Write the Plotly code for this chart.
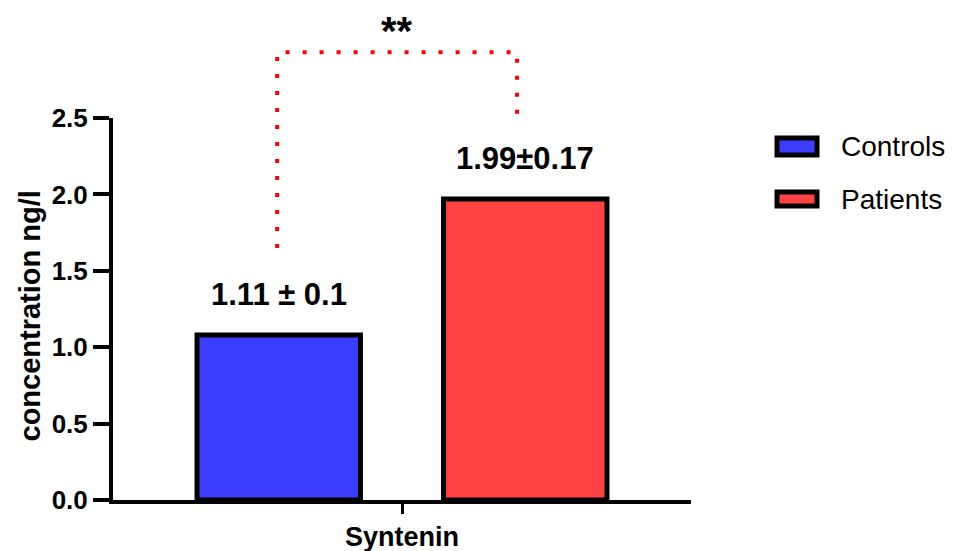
import plotly.graph_objects as go

# ---- data ----
categories = ["Syntenin"]
groups = ["Controls", "Patients"]
means = [1.08, 1.97]
bar_labels = ["1.11 ± 0.1", "1.99±0.17"]
colors = ["#3d3dff", "#ff4242"]
y_tick_vals = [0.0, 0.5, 1.0, 1.5, 2.0, 2.5]
y_tick_text = ["0.0", "0.5", "1.0", "1.5", "2.0", "2.5"]
y_title = "concentration ng/l"
# significance bracket (data units): left foot, top, right foot
bracket_x = [-0.216, 0.199]
bracket_y = [1.65, 2.93, 2.52]
significance = "**"

FONT = "Liberation Sans, Arial, sans-serif"
PAGE_OFFSET = 8  # default body margin of the html page
W, H = 957 - PAGE_OFFSET, 551 - PAGE_OFFSET
ML, MR, MT, MB = 113 - PAGE_OFFSET, 266, 118 - PAGE_OFFSET, 51
Y_RANGE = [0, 2.5]
X_RANGE = [-0.5, 0.5]
BARGAP = 0.147
BARGROUPGAP = 0.337

fig = go.Figure()
for name, val, col in zip(groups, means, colors):
    fig.add_trace(go.Bar(
        x=categories, y=[val], name=name,
        marker=dict(color=col, line=dict(color="black", width=5)),
        showlegend=False,
    ))

# bar centres (category index units) from the group layout
slot = (1 - BARGAP) / len(groups)
centres = [-(1 - BARGAP) / 2 + slot * (i + 0.5) for i in range(len(groups))]

annotations = []
for c, v, lab in zip(centres, means, bar_labels):
    annotations.append(dict(
        x=c, y=v, xref="x", yref="y", text=lab, showarrow=False,
        yanchor="middle", xanchor="center", yshift=40,
        font=dict(family=FONT, size=31, color="black", weight="bold"),
    ))

def px(xd):
    return (xd - X_RANGE[0]) / (X_RANGE[1] - X_RANGE[0])

def py(yd):
    return (yd - Y_RANGE[0]) / (Y_RANGE[1] - Y_RANGE[0])

x0, x1 = px(bracket_x[0]), px(bracket_x[1])
yl, yt, yr = py(bracket_y[0]), py(bracket_y[1]), py(bracket_y[2])
shapes = [dict(
    type="path", xref="paper", yref="paper",
    path=f"M {x0},{yl} L {x0},{yt} L {x1},{yt} L {x1},{yr}",
    line=dict(color="#ff0000", width=4, dash="4px,13px"),
)]
annotations.append(dict(
    x=(x0 + x1) / 2, y=yt + 0.0557, xref="paper", yref="paper",
    text=significance, showarrow=False, xanchor="center", yanchor="middle",
    font=dict(family=FONT, size=40, color="black", weight="bold"),
))

# y-axis title
annotations.append(dict(
    x=-0.1436, y=0.483, xref="paper", yref="paper", text=y_title,
    textangle=-90, showarrow=False, xanchor="center", yanchor="middle",
    font=dict(family=FONT, size=29, color="black", weight="bold"),
))

# custom legend (swatches + names)
leg_rows = [(0.9476, 0.9031), (0.8063, 0.7696)]
for (ya, yb), name, col in zip(leg_rows, groups, colors):
    shapes.append(dict(
        type="rect", xref="paper", yref="paper",
        x0=1.1488, x1=1.218, y0=yb, y1=ya,
        fillcolor=col, line=dict(color="black", width=5),
    ))
    annotations.append(dict(
        x=1.256, y=(ya + yb) / 2, xref="paper", yref="paper", text=name,
        showarrow=False, xanchor="left", yanchor="middle",
        font=dict(family=FONT, size=28, color="black"),
    ))

fig.update_layout(
    width=W, height=H,
    margin=dict(l=ML, r=MR, t=MT, b=MB, pad=0),
    paper_bgcolor="white", plot_bgcolor="white",
    barmode="group", bargap=BARGAP, bargroupgap=BARGROUPGAP,
    font=dict(family=FONT, color="black"),
    shapes=shapes, annotations=annotations,
    showlegend=False,
)
fig.update_xaxes(
    type="category", range=X_RANGE, automargin=False,
    showline=True, linecolor="black", linewidth=4,
    ticks="outside", ticklen=10, tickwidth=3, tickcolor="black",
    showgrid=False, zeroline=False,
    tickfont=dict(family=FONT, size=27, color="black", weight="bold"),
)
fig.update_yaxes(
    range=Y_RANGE, tickvals=y_tick_vals, ticktext=y_tick_text, automargin=False,
    showline=True, linecolor="black", linewidth=4,
    ticks="outside", ticklen=16, tickwidth=4, tickcolor="black",
    showgrid=False, zeroline=False,
    tickfont=dict(family=FONT, size=26, color="black", weight="bold"),
)

fig.write_html("out.html")
